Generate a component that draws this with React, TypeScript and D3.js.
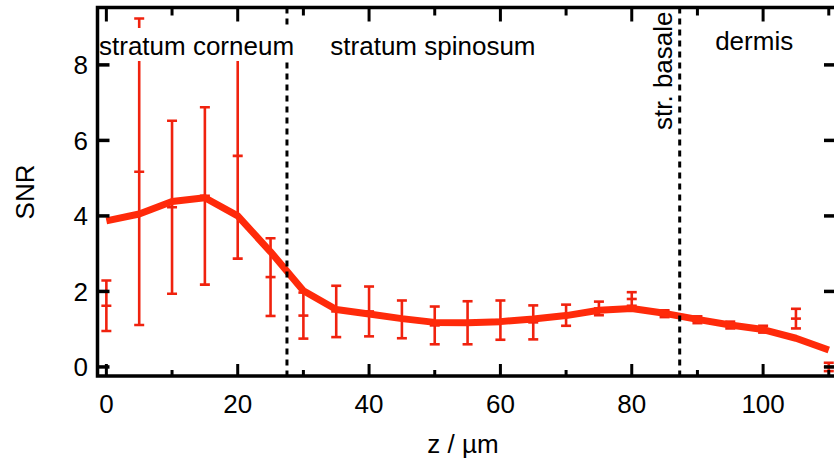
import React from "react";
import * as d3 from "d3";

// Depth positions (µm)
const depths = [0, 5, 10, 15, 20, 25, 30, 35, 40, 45, 50, 55, 60, 65, 70, 75, 80, 85, 90, 95, 100, 105, 110];
// Mean SNR curve (thick line)
const snrMean = [3.87, 4.05, 4.38, 4.48, 4.0, 3.05, 2.02, 1.52, 1.4, 1.28, 1.18, 1.17, 1.2, 1.27, 1.36, 1.5, 1.55, 1.42, 1.26, 1.11, 0.99, 0.76, 0.45];
// Single-measurement SNR with error bars
const snrPoint = [1.62, 5.17, 4.23, 4.53, 5.59, 2.38, 1.36, 1.47, 1.47, 1.26, 1.1, 1.17, 1.24, 1.18, 1.37, 1.55, 1.8, 1.41, 1.25, 1.11, 1.0, 1.28, 0.0];
const snrErr = [0.67, 4.06, 2.29, 2.35, 2.72, 1.03, 0.61, 0.68, 0.66, 0.5, 0.5, 0.57, 0.52, 0.45, 0.28, 0.18, 0.18, 0.09, 0.09, 0.09, 0.09, 0.26, 0.11];

const xTicks = [0, 10, 20, 30, 40, 50, 60, 70, 80, 90, 100, 110];
const xTickLabels = [0, 20, 40, 60, 80, 100];
const yTicks = [0, 2, 4, 6, 8];
const boundaries = [27.5, 87.3];

const regionLabels = [
  { text: "stratum corneum", z: 0, y: 9.74 - 0.0, box: true },
  { text: "stratum spinosum", z: 34.1, y: 0, box: false },
  { text: "dermis", z: 92.7, y: 0, box: false },
];

const FONT = "'Liberation Sans', Arial, Helvetica, sans-serif";
const RED_LINE = "#ff2a0a";
const RED_ERR = "#f0220e";

export default function App() {
  const W = 834;
  const H = 465;
  const x = d3.scaleLinear().domain([-1.35, 111.1]).range([97.5, 836]);
  const y = d3.scaleLinear().domain([-0.24, 9.52]).range([376, 7.5]);

  const line = d3
    .line<number>()
    .x((_, i) => x(depths[i]))
    .y((d) => y(d))
    .curve(d3.curveLinear);

  const left = x.range()[0];
  const right = x.range()[1];
  const top = y.range()[1];
  const bottom = y.range()[0];
  const capHalf = 5;

  return (
    <svg
      width={W}
      height={H}
      viewBox={`0 0 ${W} ${H}`}
      style={{ position: "absolute", left: 0, top: 0, background: "#fff" }}
      fontFamily={FONT}
    >
      <rect x={0} y={0} width={W} height={H} fill="#fff" />
      <defs>
        <clipPath id="plotClip">
          <rect x={left} y={top} width={right - left} height={bottom - top} />
        </clipPath>
      </defs>

      <g clipPath="url(#plotClip)">
        {/* error bars */}
        {depths.map((d, i) => {
          const cx = x(d);
          const yc = y(snrPoint[i]);
          const y1 = y(snrPoint[i] + snrErr[i]);
          const y0 = y(snrPoint[i] - snrErr[i]);
          return (
            <g key={"e" + i} stroke={RED_ERR} strokeWidth={2.6} fill="none">
              <line x1={cx} x2={cx} y1={y1} y2={y0} />
              <line x1={cx - capHalf} x2={cx + capHalf} y1={y1} y2={y1} />
              <line x1={cx - capHalf} x2={cx + capHalf} y1={y0} y2={y0} />
              <line x1={cx - capHalf} x2={cx + capHalf} y1={yc} y2={yc} />
            </g>
          );
        })}
        {/* mean line */}
        <path
          d={line(snrMean) || ""}
          fill="none"
          stroke={RED_LINE}
          strokeWidth={7}
          strokeLinejoin="round"
          strokeLinecap="butt"
        />
        {/* boundaries */}
        {boundaries.map((b, i) => (
          <line
            key={"b" + i}
            x1={x(b)}
            x2={x(b)}
            y1={top}
            y2={bottom}
            stroke="#000"
            strokeWidth={3}
            strokeDasharray="6,5"
          />
        ))}
      </g>

      {/* region labels */}
      <rect x={99} y={28} width={198} height={33} fill="#fff" />
      <text x={99} y={55} fontSize={26} fill="#000">
        {regionLabels[0].text}
      </text>
      <text x={x(regionLabels[1].z)} y={55} fontSize={26} fill="#000">
        {regionLabels[1].text}
      </text>
      <text x={x(regionLabels[2].z)} y={50} fontSize={26} fill="#000">
        {regionLabels[2].text}
      </text>
      <text
        transform={`translate(672,130) rotate(-90)`}
        fontSize={26}
        fill="#000"
      >
        str. basale
      </text>

      {/* frame */}
      <rect
        x={left}
        y={top}
        width={right - left}
        height={bottom - top}
        fill="none"
        stroke="#000"
        strokeWidth={3.5}
      />

      {/* x ticks bottom & top */}
      {xTicks.map((t) => {
        const len = t % 20 === 0 ? 12 : 6;
        const px = x(t);
        return (
          <g key={"xt" + t} stroke="#000" strokeWidth={3}>
            <line x1={px} x2={px} y1={bottom} y2={bottom - len} />
            <line x1={px} x2={px} y1={top} y2={top + len + 2} />
          </g>
        );
      })}
      {/* y ticks left & right */}
      {yTicks.map((t) => {
        const py = y(t);
        return (
          <g key={"yt" + t} stroke="#000" strokeWidth={3.5}>
            <line x1={left} x2={left + 12} y1={py} y2={py} />
            <line x1={right} x2={right - 12} y1={py} y2={py} />
          </g>
        );
      })}

      {/* tick labels */}
      {xTickLabels.map((t) => (
        <text
          key={"xl" + t}
          x={x(t)}
          y={413}
          fontSize={26}
          textAnchor="middle"
          fill="#000"
        >
          {t}
        </text>
      ))}
      {yTicks.map((t) => (
        <text
          key={"yl" + t}
          x={88}
          y={y(t) + 9.5}
          fontSize={26}
          textAnchor="end"
          fill="#000"
        >
          {t}
        </text>
      ))}

      {/* axis titles */}
      <text x={463} y={453} fontSize={26} textAnchor="middle" fill="#000">
        z / µm
      </text>
      <text
        transform={`translate(34,192) rotate(-90)`}
        fontSize={26}
        textAnchor="middle"
        fill="#000"
      >
        SNR
      </text>
    </svg>
  );
}
